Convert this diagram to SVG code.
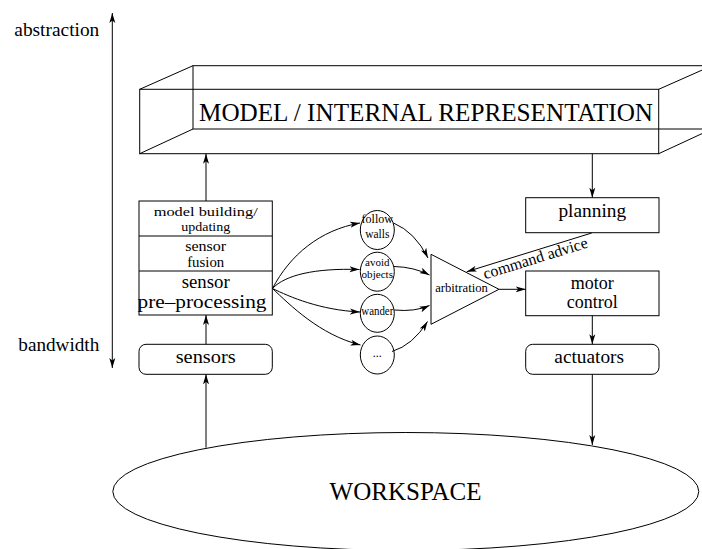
<svg xmlns="http://www.w3.org/2000/svg" width="702" height="549" viewBox="0 0 702 549" font-family="'Liberation Serif', 'DejaVu Serif', serif">
<style>
  .ln { fill: none; stroke: #000; stroke-width: 1; }
  .bx { fill: #fff; stroke: #000; stroke-width: 1; }
  .con { fill: none; stroke: #000; stroke-width: 1; marker-end: url(#ah); }
  text { font-family: 'Liberation Serif', 'DejaVu Serif', serif; fill: #000; }
  .c { text-anchor: middle; }
  .r { text-anchor: end; }
</style>
<defs>
  <marker id="ah" markerUnits="userSpaceOnUse" markerWidth="11" markerHeight="7" refX="10" refY="3.5" orient="auto-start-reverse">
    <path d="M0,0.5 L10,3.5 L0,6.5 L2.5,3.5 z" fill="#000"/>
  </marker>
</defs>
<rect width="702" height="549" fill="#fff"/>

<g id="axis">
  <line x1="112.3" y1="13" x2="112.3" y2="368" class="ln" marker-start="url(#ah)" marker-end="url(#ah)"/>
  <text x="99.3" y="36" class="r" font-size="18.5" textLength="85" lengthAdjust="spacingAndGlyphs">abstraction</text>
  <text x="99.3" y="351" class="r" font-size="18.5" textLength="81" lengthAdjust="spacingAndGlyphs">bandwidth</text>
</g>

<g id="model">
  <rect x="193" y="65.7" width="560" height="63.3" class="ln"/>
  <rect x="139.7" y="89.3" width="519" height="64.4" class="ln"/>
  <line x1="139.7" y1="89.3" x2="193" y2="65.7" class="ln"/>
  <line x1="139.7" y1="153.7" x2="193" y2="129" class="ln"/>
  <line x1="658.7" y1="89.3" x2="712" y2="65.7" class="ln"/>
  <line x1="658.7" y1="153.7" x2="712" y2="129" class="ln"/>
  <text x="199" y="121" font-size="25" textLength="454" lengthAdjust="spacingAndGlyphs">MODEL / INTERNAL REPRESENTATION</text>
</g>

<g id="stack">
  <rect x="139" y="201" width="133.3" height="114" class="bx"/>
  <line x1="139" y1="236" x2="272.3" y2="236" class="ln"/>
  <line x1="139" y1="271" x2="272.3" y2="271" class="ln"/>
  <text x="205.7" y="216" class="c" font-size="13.5" textLength="104" lengthAdjust="spacingAndGlyphs">model building/</text>
  <text x="205.7" y="230.5" class="c" font-size="13.5" textLength="49" lengthAdjust="spacingAndGlyphs">updating</text>
  <text x="205.7" y="251" class="c" font-size="14" textLength="41" lengthAdjust="spacingAndGlyphs">sensor</text>
  <text x="205.7" y="266.5" class="c" font-size="14" textLength="37" lengthAdjust="spacingAndGlyphs">fusion</text>
  <text x="205.7" y="287.5" class="c" font-size="18" textLength="48" lengthAdjust="spacingAndGlyphs">sensor</text>
  <text x="202" y="308" class="c" font-size="18" textLength="129" lengthAdjust="spacingAndGlyphs">pre–processing</text>
</g>

<g id="sensors">
  <rect x="139" y="344.3" width="133.3" height="30" rx="7" class="bx"/>
  <text x="205.7" y="363.3" class="c" font-size="19.5" textLength="60" lengthAdjust="spacingAndGlyphs">sensors</text>
</g>

<g id="follow-walls">
  <ellipse cx="377.3" cy="230" rx="17" ry="19.5" class="bx"/>
  <text x="377.3" y="223.3" class="c" font-size="11.5" textLength="31.5" lengthAdjust="spacingAndGlyphs">follow</text>
  <text x="377.3" y="238" class="c" font-size="11.5">walls</text>
</g>
<g id="avoid-objects">
  <ellipse cx="377.3" cy="271.7" rx="17" ry="19.5" class="bx"/>
  <text x="377.3" y="265.5" class="c" font-size="11">avoid</text>
  <text x="377.3" y="277.5" class="c" font-size="11" textLength="31.5" lengthAdjust="spacingAndGlyphs">objects</text>
</g>
<g id="wander">
  <ellipse cx="377.3" cy="313.3" rx="17" ry="19" class="bx"/>
  <text x="377.3" y="315" class="c" font-size="11.5" textLength="32" lengthAdjust="spacingAndGlyphs">wander</text>
</g>
<g id="more">
  <ellipse cx="377.3" cy="355" rx="17" ry="19" class="bx"/>
  <text x="377.3" y="357" class="c" font-size="12">...</text>
</g>

<g id="arbitration">
  <polygon points="431,254.3 499,289.3 431,324.3" class="bx"/>
  <text x="461.5" y="292.3" class="c" font-size="12.6" textLength="52.7" lengthAdjust="spacingAndGlyphs">arbitration</text>
</g>

<g id="planning">
  <rect x="525.7" y="197.7" width="133.3" height="35" class="bx"/>
  <text x="592.3" y="217.3" class="c" font-size="19.3" textLength="67.7" lengthAdjust="spacingAndGlyphs">planning</text>
</g>

<g id="motor-control">
  <rect x="525.7" y="271" width="133.3" height="44.7" class="bx"/>
  <text x="592.3" y="288.5" class="c" font-size="18">motor</text>
  <text x="592.3" y="307.5" class="c" font-size="18">control</text>
</g>

<g id="actuators">
  <rect x="525.7" y="344.3" width="133.3" height="30" rx="7" class="bx"/>
  <text x="589.2" y="363.3" class="c" font-size="19.3" textLength="69.7" lengthAdjust="spacingAndGlyphs">actuators</text>
</g>

<g id="workspace">
  <ellipse cx="405.8" cy="491.5" rx="293" ry="59" class="bx"/>
  <text x="405.6" y="500" class="c" font-size="25" textLength="152" lengthAdjust="spacingAndGlyphs">WORKSPACE</text>
</g>

<g id="connectors">
  <line x1="206" y1="447.7" x2="206" y2="374.3" class="con"/>
  <line x1="206" y1="344.3" x2="206" y2="315" class="con"/>
  <line x1="206" y1="201" x2="206" y2="153.7" class="con"/>
  <line x1="592.3" y1="153.7" x2="592.3" y2="197.7" class="con"/>
  <line x1="592.3" y1="315.7" x2="592.3" y2="344.3" class="con"/>
  <line x1="592.3" y1="374.3" x2="592.3" y2="445" class="con"/>
  <line x1="499" y1="289.3" x2="525.7" y2="289.3" class="con"/>
  <line x1="591.7" y1="233" x2="466.7" y2="271.7" class="con"/>
  <text x="485" y="279.3" font-size="16" transform="rotate(-17.2 485 279.3)" textLength="108.5" lengthAdjust="spacingAndGlyphs">command advice</text>

  <path d="M272.5,288.5 C290,255 320,230 360,223" class="con"/>
  <path d="M272.5,288.5 C285,275 315,268 359.5,269.5" class="con"/>
  <path d="M272.5,288.5 C290,297 320,310 360,312" class="con"/>
  <path d="M272.5,288.5 C290,305 320,335 360.5,345" class="con"/>

  <path d="M393.5,223 Q415,232 428,258" class="con"/>
  <path d="M394,266.5 Q414,267 429.5,275" class="con"/>
  <path d="M394.3,310 Q415,312 429.5,305.5" class="con"/>
  <path d="M392,351.5 Q413,345 427.5,321.5" class="con"/>
</g>
</svg>
